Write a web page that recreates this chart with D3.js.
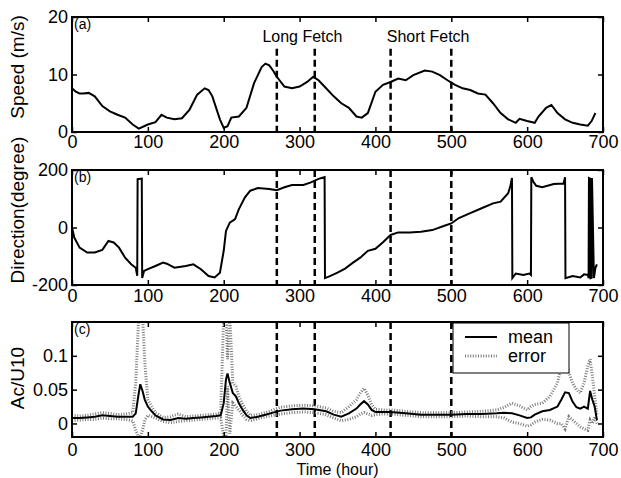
<!DOCTYPE html>
<meta charset="utf-8">
<style>
    body { margin: 0; background: #fff; }
    svg text { font-family: "Liberation Sans", Arial, sans-serif; fill: #000; }
</style>
<svg id="chart" width="621" height="478"></svg>
<script src="https://d3js.org/d3.v7.min.js"></script>
<script>
    // (a) wind speed
    const speedTime = [0,5,10,15,22,30,40,50,60,70,80,88,95,100,110,118,125,135,145,155,165,175,180,185,195,200,205,210,220,230,240,250,255,260,265,270,280,290,300,310,318,325,335,345,355,365,375,382,390,400,410,420,430,440,450,465,475,485,495,505,515,525,535,545,555,565,575,585,590,600,610,615,625,632,640,650,660,670,680,685,690];
    const speed = [7.6,7.0,6.7,6.7,6.8,6.2,4.5,3.6,3.0,2.5,1.3,0.6,1.0,1.3,1.7,3.0,2.5,2.2,2.4,3.9,6.5,7.6,7.3,6.2,2.2,0.7,1.0,2.5,2.7,4.2,8.5,11.3,11.9,11.6,10.7,9.6,7.9,7.6,7.9,8.7,9.6,9.0,7.6,6.2,5.0,4.2,2.7,2.5,3.3,7.0,8.2,8.7,9.3,9.0,9.9,10.7,10.5,9.9,9.0,8.2,7.6,7.3,6.7,6.5,5.0,3.3,2.2,1.6,2.3,1.9,1.6,2.7,4.2,4.7,3.3,2.2,1.6,1.3,1.1,1.9,3.3];

    // (b) wind direction
    const dirTime = [0,3,10,20,30,40,48,55,62,70,78,84,86,86.5,92,92.5,95,100,110,120,125,135,150,160,170,180,188,195,200,203,208,215,220,228,235,245,260,270,280,290,305,315,325,333,333.5,340,350,360,370,380,390,400,410,420,430,445,460,475,490,500,510,525,540,555,565,575,578,580,580.5,585,595,603,605,605.5,608,612,620,635,648,650,650.5,660,670,675,680,681,681.5,683,683.5,685,685.5,688,690,692];
    const direction = [0,-35,-70,-87,-87,-78,-47,-52,-70,-105,-128,-140,-168,168,170,-176,-151,-145,-134,-122,-126,-140,-134,-128,-145,-169,-174,-157,-81,-12,17,29,64,105,128,137,134,130,140,148,148,157,169,175,-176,-169,-157,-143,-123,-105,-81,-74,-51,-26,-17,-17,-15,-9,5,14,33,50,67,84,90,119,145,172,-176,-160,-165,-160,-165,175,160,145,140,151,153,175,-176,-169,-174,-163,-165,-176,172,170,-176,-175,172,-176,-140,-128];

    // (c) Ac/U10 mean and error band
    const cTime = [0,10,20,30,40,50,60,70,80,84,88,90,93,96,100,105,110,120,130,140,150,160,170,180,190,196,200,203,205,208,212,216,220,225,230,235,245,255,265,275,290,305,320,335,345,355,365,375,380,385,390,395,400,410,420,440,460,480,500,520,540,560,570,580,590,600,605,610,620,630,640,645,650,655,660,665,670,675,680,683,686,689,692];
    const acMean = [0.008,0.008,0.009,0.010,0.012,0.011,0.010,0.010,0.010,0.015,0.045,0.058,0.048,0.035,0.025,0.018,0.012,0.006,0.005,0.008,0.007,0.008,0.009,0.010,0.011,0.012,0.030,0.065,0.074,0.060,0.045,0.040,0.030,0.020,0.012,0.008,0.010,0.013,0.016,0.019,0.021,0.022,0.021,0.018,0.013,0.010,0.015,0.022,0.028,0.033,0.028,0.020,0.017,0.017,0.017,0.015,0.013,0.013,0.013,0.014,0.014,0.015,0.016,0.015,0.012,0.008,0.009,0.013,0.018,0.020,0.025,0.035,0.046,0.045,0.032,0.024,0.022,0.025,0.022,0.048,0.035,0.025,0.005];
    const errHi = [0.012,0.011,0.012,0.014,0.016,0.015,0.013,0.014,0.016,0.060,0.160,0.160,0.160,0.090,0.035,0.025,0.016,0.009,0.010,0.014,0.010,0.011,0.012,0.013,0.014,0.016,0.160,0.160,0.095,0.160,0.060,0.055,0.040,0.028,0.018,0.012,0.013,0.016,0.020,0.024,0.026,0.027,0.026,0.023,0.018,0.016,0.025,0.035,0.045,0.052,0.042,0.028,0.021,0.020,0.020,0.018,0.016,0.016,0.016,0.017,0.018,0.020,0.024,0.030,0.026,0.020,0.025,0.028,0.030,0.040,0.060,0.085,0.100,0.075,0.060,0.050,0.045,0.060,0.085,0.095,0.070,0.040,0.012];
    const errLo = [0.004,0.005,0.006,0.006,0.008,0.007,0.007,0.006,0.004,-0.010,-0.020,-0.020,-0.010,0.005,0.012,0.010,0.008,0.003,0.001,0.003,0.004,0.005,0.006,0.007,0.008,0.008,-0.020,-0.020,0.055,-0.015,0.030,0.025,0.020,0.012,0.006,0.004,0.007,0.010,0.012,0.014,0.016,0.017,0.016,0.013,0.008,0.004,0.006,0.010,0.014,0.016,0.014,0.012,0.013,0.014,0.014,0.012,0.010,0.010,0.010,0.011,0.010,0.010,0.008,0.002,0.000,-0.004,-0.002,0.002,0.006,0.005,0.000,0.000,-0.008,0.010,0.005,0.000,-0.005,-0.008,-0.010,0.005,0.000,0.010,0.000];

    const xTicks = [0,100,200,300,400,500,600,700];
    const fetchLines = [270,320,420,500];
    const fetchLabels = [{t: 251, text: "Long Fetch"}, {t: 415, text: "Short Fetch"}];
    const legendItems = ["mean", "error"];

    const svg = d3.select("#chart");
    const x = d3.scaleLinear().domain([0, 700]).range([72, 603]);
    const H = 115;

    const panels = [
        {id: "a", top: 17, domain: [0, 20], ticks: [0, 10, 20], label: "Speed (m/s)", labelY: 67, pad: 3},
        {id: "b", top: 170, domain: [-200, 200], ticks: [-200, 0, 200], label: "Direction(degree)", labelY: 210, pad: 4.5},
        {id: "c", top: 322, domain: [-0.02, 0.15], ticks: [0, 0.05, 0.1], label: "Ac/U10", labelY: 378, pad: 6}
    ];

    const errStyle = sel => sel.attr("fill", "none").attr("stroke", "#7a7a7a")
        .attr("stroke-width", 3).attr("stroke-dasharray", "1,1.6");

    panels.forEach(p => {
        const y = d3.scaleLinear().domain(p.domain).range([p.top + H, p.top]);
        p.y = y;
        const g = svg.append("g");

        svg.append("clipPath").attr("id", "clip-" + p.id)
            .append("rect").attr("x", x(0)).attr("y", p.top)
            .attr("width", x(700) - x(0)).attr("height", H);

        const plot = g.append("g").attr("clip-path", "url(#clip-" + p.id + ")");

        // fetch boundaries
        plot.selectAll(".fetch").data(fetchLines).join("line")
            .attr("x1", d => x(d)).attr("x2", d => x(d))
            .attr("y1", p.id === "a" ? y(14.5) : p.top)
            .attr("y2", p.top + H)
            .attr("stroke", "#000").attr("stroke-width", 2.5)
            .attr("stroke-dasharray", "7,4");

        const ln = d3.line().x(d => x(d[0])).y(d => y(d[1]));
        if (p.id === "a") {
            plot.append("path")
                .datum(speedTime.map((t, i) => [t, speed[i]]))
                .attr("d", ln)
                .attr("fill", "none").attr("stroke", "#000").attr("stroke-width", 2);
        } else if (p.id === "b") {
            plot.append("path")
                .datum(dirTime.map((t, i) => [t, direction[i]]))
                .attr("d", ln)
                .attr("fill", "none").attr("stroke", "#000").attr("stroke-width", 2);
        } else {
            plot.append("path").datum(cTime.map((t, i) => [t, errHi[i]])).attr("d", ln).call(errStyle);
            plot.append("path").datum(cTime.map((t, i) => [t, errLo[i]])).attr("d", ln).call(errStyle);
            plot.append("path").datum(cTime.map((t, i) => [t, acMean[i]])).attr("d", ln)
                .attr("fill", "none").attr("stroke", "#000").attr("stroke-width", 2);
        }

        // axes, ticks pointing inward on all four sides
        const bottom = g.append("g").attr("transform", `translate(0,${p.top + H})`)
            .call(d3.axisBottom(x).tickValues(xTicks).tickSize(-5).tickPadding(p.pad).tickFormat(d => String(d)));
        const top = g.append("g").attr("transform", `translate(0,${p.top})`)
            .call(d3.axisTop(x).tickValues(xTicks).tickSize(-5).tickFormat(""));
        const left = g.append("g").attr("transform", `translate(${x(0)},0)`)
            .call(d3.axisLeft(y).tickValues(p.ticks).tickSize(-5).tickPadding(4).tickFormat(d => String(d)));
        const right = g.append("g").attr("transform", `translate(${x(700)},0)`)
            .call(d3.axisRight(y).tickValues(p.ticks).tickSize(-5).tickFormat(""));
        [bottom, top, left, right].forEach(a => {
            a.select(".domain").remove();
            a.selectAll("line").attr("stroke", "#000").attr("stroke-width", 1.5);
            a.selectAll("text").attr("font-size", 18).attr("font-family", null);
        });

        g.append("rect")
            .attr("x", x(0)).attr("y", p.top)
            .attr("width", x(700) - x(0)).attr("height", H)
            .attr("fill", "none").attr("stroke", "#000").attr("stroke-width", 2);

        g.append("text")
            .attr("x", x(0) + 2).attr("y", p.top + 12)
            .attr("font-size", 14)
            .text("(" + p.id + ")");

        svg.append("text")
            .attr("transform", `translate(24,${p.labelY}) rotate(-90)`)
            .attr("text-anchor", "middle")
            .attr("font-size", 19)
            .text(p.label);
    });

    // fetch labels in panel (a)
    svg.selectAll(".fetchLabel").data(fetchLabels).join("text")
        .attr("x", d => x(d.t)).attr("y", panels[0].y(15.6))
        .attr("font-size", 16)
        .text(d => d.text);

    // legend in panel (c)
    const lg = svg.append("g").attr("transform", "translate(453,323)");
    lg.append("rect").attr("width", 116).attr("height", 50)
        .attr("fill", "#fff").attr("stroke", "#000").attr("stroke-width", 1);
    legendItems.forEach((name, i) => {
        const ly = 14 + i * 19;
        const l = lg.append("line").attr("x1", 12).attr("x2", 44).attr("y1", ly).attr("y2", ly);
        if (i === 0) l.attr("stroke", "#000").attr("stroke-width", 2);
        else l.call(errStyle);
        lg.append("text").attr("x", 55).attr("y", ly + 6)
            .attr("font-size", 18).text(name);
    });

    svg.append("text")
        .attr("x", (x(0) + x(700)) / 2).attr("y", 475)
        .attr("text-anchor", "middle").attr("font-size", 16)
        .text("Time (hour)");
</script>
